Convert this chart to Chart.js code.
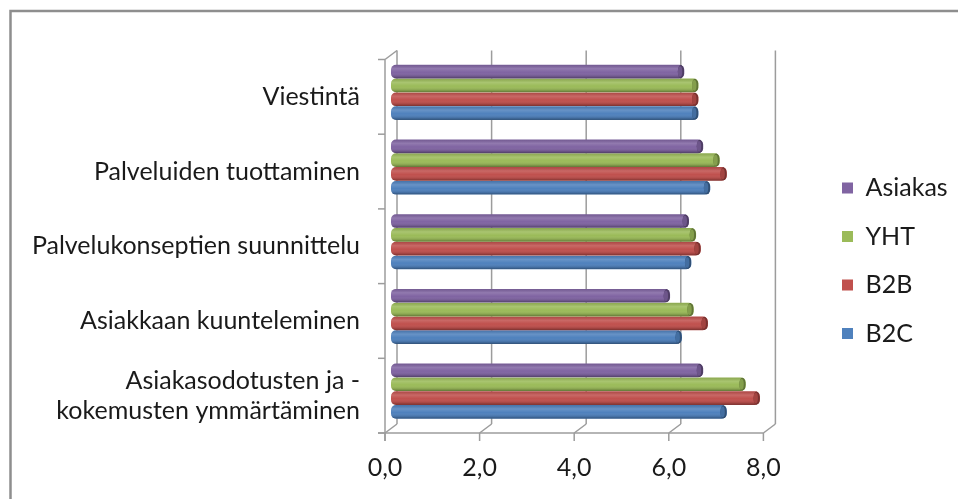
<!DOCTYPE html>
<html>
<head>
<meta charset="utf-8">
<script src="https://cdn.jsdelivr.net/npm/chart.js@4.4.1/dist/chart.umd.min.js"></script>
<style>
  html, body { margin: 0; padding: 0; background: #ffffff; }
  #wrap { width: 958px; height: 499px; position: relative; }
</style>
</head>
<body>
<div id="wrap"><canvas id="c" width="958" height="499"></canvas></div>
<script>
// Categories (top to bottom) and the four series
const categories = [
  'Viestintä',
  'Palveluiden tuottaminen',
  'Palvelukonseptien suunnittelu',
  'Asiakkaan kuunteleminen',
  ['Asiakasodotusten ja -', 'kokemusten ymmärtäminen']
];
const seriesNames = ['Asiakas', 'YHT', 'B2B', 'B2C'];
const asiakas = [6.2, 6.6, 6.3, 5.9, 6.6];
const yht     = [6.5, 6.95, 6.45, 6.4, 7.5];
const b2b     = [6.5, 7.1, 6.55, 6.7, 7.8];
const b2c     = [6.5, 6.75, 6.35, 6.15, 7.1];
const xTicks  = [0, 2, 4, 6, 8];

const seriesValues = [asiakas, yht, b2b, b2c];
const seriesColors = ['#8064A2', '#9BBB59', '#C0504D', '#4F81BD'];

const FONT = 'Lato';
const TEXT = '#1a1a1a';
const LINE = '#9c9c9c';
// depth offsets of the 3-D floor/walls relative to the bar plane
const DX = 6, DY = 4.5;

function shade(hex, f) {
  const n = parseInt(hex.slice(1), 16);
  const r = Math.round(((n >> 16) & 255) * f);
  const g = Math.round(((n >> 8) & 255) * f);
  const b = Math.round((n & 255) * f);
  return `rgb(${r},${g},${b})`;
}

function line(ctx, x1, y1, x2, y2) {
  ctx.beginPath();
  ctx.moveTo(x1, y1);
  ctx.lineTo(x2, y2);
  ctx.stroke();
}

const frame3d = {
  id: 'frame3d',
  afterLayout(chart) {
    // legend column placed to the right of the plot
    const lg = chart.legend;
    if (!lg) return;
    lg.left = 818.5;
    lg.right = 958;
    lg.width = lg.right - lg.left;
    lg.top = 0;
    lg.bottom = 521.5;
    lg.height = 521.5;
  },
  beforeDraw(chart) {
    const ctx = chart.ctx;
    ctx.save();
    ctx.strokeStyle = '#8e8e8e';
    ctx.lineWidth = 2.5;
    ctx.beginPath();
    ctx.moveTo(10.5, 499);
    ctx.lineTo(10.5, 11);
    ctx.lineTo(958, 11);
    ctx.stroke();
    ctx.restore();
  },
  beforeDatasetsDraw(chart) {
    const { ctx, chartArea: { top, bottom }, scales: { x } } = chart;
    ctx.save();
    ctx.strokeStyle = LINE;
    ctx.lineWidth = 1.5;
    const x0 = x.getPixelForValue(xTicks[0]);
    const xN = x.getPixelForValue(xTicks[xTicks.length - 1]);
    xTicks.forEach(v => {
      const px = x.getPixelForValue(v);
      line(ctx, px + DX, top - DY, px + DX, bottom - DY);        // back wall
      line(ctx, px + DX, bottom - DY, px - DX, bottom + DY);     // floor
      line(ctx, px - DX, bottom + DY, px - DX, bottom + DY + 8); // tick mark
    });
    line(ctx, x0 - DX - 7, bottom + DY, xN - DX, bottom + DY);
    // side wall
    line(ctx, x0 - DX, top + DY, x0 - DX, bottom + DY + 8);
    line(ctx, x0 - DX, top + DY, x0 + DX, top - DY);
    const n = categories.length;
    const band = (bottom - top) / n;
    for (let k = 0; k <= n; k++) {
      const yy = top + DY + k * band;
      line(ctx, x0 - DX - 7, yy, x0 - DX, yy);
    }
    ctx.restore();
  },
  afterDatasetsDraw(chart) {
    const ctx = chart.ctx;
    chart.data.datasets.forEach((ds, di) => {
      const meta = chart.getDatasetMeta(di);
      if (meta.hidden) return;
      meta.data.forEach(el => {
        const p = el.getProps(['x', 'y', 'base', 'height'], true);
        const h = p.height, t = p.y - h / 2, w = p.x - p.base;
        const g = ctx.createLinearGradient(0, t, 0, t + h);
        g.addColorStop(0, 'rgba(0,0,0,0.10)');
        g.addColorStop(0.28, 'rgba(255,255,255,0.14)');
        g.addColorStop(0.55, 'rgba(255,255,255,0.0)');
        g.addColorStop(0.85, 'rgba(0,0,0,0.14)');
        g.addColorStop(1, 'rgba(0,0,0,0.38)');
        ctx.save();
        ctx.beginPath();
        ctx.roundRect(p.base, t, w, h, 5);
        ctx.clip();
        ctx.fillStyle = g;
        ctx.fillRect(p.base, t, w, h);
        // cylinder end cap
        ctx.beginPath();
        ctx.ellipse(p.x - 3.2, p.y, 3.2, h / 2, 0, 0, Math.PI * 2);
        ctx.fillStyle = shade(ds.backgroundColor, 0.62);
        ctx.fill();
        ctx.beginPath();
        ctx.ellipse(p.x - 4.2, p.y, 2.2, h / 2 - 1.5, 0, 0, Math.PI * 2);
        ctx.fillStyle = shade(ds.backgroundColor, 0.85);
        ctx.fill();
        ctx.restore();
      });
    });
  }
};

new Chart(document.getElementById('c'), {
  type: 'bar',
  data: {
    labels: categories,
    datasets: seriesNames.map((name, i) => ({
      label: name,
      data: seriesValues[i],
      backgroundColor: seriesColors[i],
      borderWidth: 0,
      borderRadius: 5,
      borderSkipped: false,
      categoryPercentage: 0.74,
      barPercentage: 0.99
    }))
  },
  options: {
    indexAxis: 'y',
    responsive: false,
    animation: false,
    events: [],
    layout: { padding: { top: 55, left: 0, right: 68.6, bottom: 0 } },
    plugins: {
      tooltip: { enabled: false },
      legend: {
        position: 'right',
        maxWidth: 120,
        labels: {
          font: { family: FONT, size: 25 },
          color: TEXT,
          boxWidth: 11,
          boxHeight: 11,
          padding: 23.5
        }
      }
    },
    scales: {
      x: {
        type: 'linear',
        min: xTicks[0],
        max: xTicks[xTicks.length - 1],
        afterBuildTicks: s => { s.ticks = xTicks.map(v => ({ value: v })); },
        afterFit: s => { s.height = 70.5; s.paddingLeft = 0; s.paddingRight = 0; },
        grid: { display: false, drawTicks: false },
        border: { display: false },
        ticks: {
          font: { family: FONT, size: 25, lineHeight: 1.2 },
          color: TEXT,
          padding: 24,
          labelOffset: -DX,
          callback: v => v.toFixed(1).replace('.', ',')
        }
      },
      y: {
        afterFit: s => { s.width = 391; s.paddingTop = 0; s.paddingBottom = 0; },
        grid: { display: false, drawTicks: false },
        border: { display: false },
        ticks: {
          font: { family: FONT, size: 25, lineHeight: 1.2 },
          color: TEXT,
          padding: 31,
          labelOffset: DY
        }
      }
    }
  },
  plugins: [frame3d]
});
</script>
</body>
</html>
